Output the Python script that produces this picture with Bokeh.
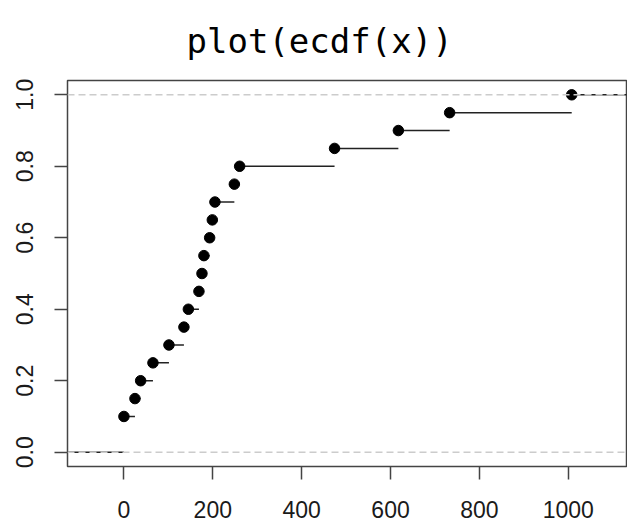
from bokeh.plotting import figure
from bokeh.models import FixedTicker, NumeralTickFormatter, Span, Range1d
from bokeh.embed import file_html
from bokeh.resources import INLINE

# ECDF knots (sorted sample values) and the cumulative probability at each knot
knots = [0, 24.8, 37.6, 65.3, 101.3, 135, 145, 168.8, 175.6, 180, 192.9, 198.9,
         204.8, 248.5, 260.4, 474, 617.6, 733, 1007.7]
probs = [0.10, 0.15, 0.20, 0.25, 0.30, 0.35, 0.40, 0.45, 0.50, 0.55, 0.60, 0.65,
         0.70, 0.75, 0.80, 0.85, 0.90, 0.95, 1.00]
x_ticks = [0, 200, 400, 600, 800, 1000]
y_ticks = [0.0, 0.2, 0.4, 0.6, 0.8, 1.0]
title_text = "plot(ecdf(x))"

p = figure(width=627, height=527, output_backend="svg", toolbar_location=None,
           x_range=Range1d(-127, 1131), y_range=Range1d(-0.04, 1.04),
           min_border_left=67, min_border_right=1, min_border_top=80,
           min_border_bottom=61)
p.background_fill_color = "white"
p.border_fill_color = "white"
p.xgrid.visible = False
p.ygrid.visible = False
p.outline_line_color = "#444444"
p.outline_line_width = 1.5

# step segments
x0 = [-300] + knots
x1 = knots + [1500]
yy = [0.0] + probs
p.segment(x0=x0, y0=yy, x1=x1, y1=yy, line_color="#222222", line_width=1.5)
p.scatter(x=knots, y=probs, size=10.5, color="black")

for v in (0.0, 1.0):
    p.add_layout(Span(location=v, dimension="width", line_color="#cccccc",
                      line_width=1.5, line_dash="7 4"))

for ax in (p.xaxis[0], p.yaxis[0]):
    ax.axis_line_color = None
    ax.major_tick_line_color = "#444444"
    ax.major_tick_line_width = 1.5
    ax.major_tick_out = 13
    ax.major_tick_in = 0
    ax.minor_tick_line_color = None
    ax.major_label_text_font = "Liberation Sans"
    ax.major_label_text_font_size = "23px"
    ax.major_label_text_color = "#1a1a1a"

p.xaxis.ticker = FixedTicker(ticks=x_ticks)
p.yaxis.ticker = FixedTicker(ticks=y_ticks)
p.yaxis.formatter = NumeralTickFormatter(format="0.0")
p.yaxis.major_label_orientation = "vertical"
p.xaxis.major_label_standoff = 21
p.yaxis.major_label_standoff = 21

p.title.text = title_text
p.title.text_font = "DejaVu Sans Mono"
p.title.text_font_size = "34px"
p.title.text_font_style = "normal"
p.title.text_color = "black"
p.title.align = "left"
p.title.offset = 119
p.title.vertical_align = "top"
p.title.standoff = 36

open("out.html", "w").write(file_html(p, INLINE))
